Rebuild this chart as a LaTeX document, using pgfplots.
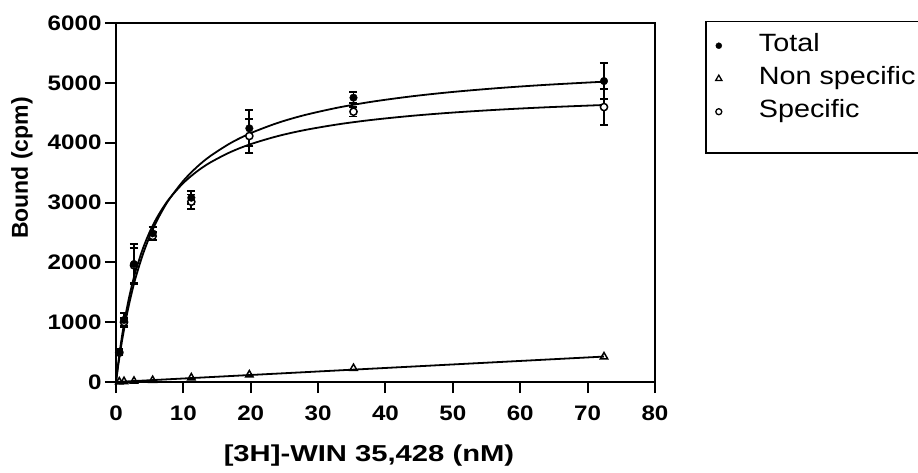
\documentclass[border=0pt]{standalone}
\usepackage{fontspec}
\setmainfont{Liberation Sans}
\newfontfamily\tickf{Liberation Sans Bold}[FakeStretch=1.15]
\newfontfamily\xlabf{Liberation Sans Bold}[FakeStretch=1.27]
\newfontfamily\ylabf{Liberation Sans Bold}
\newfontfamily\legf{Liberation Sans}[FakeStretch=1.15]
\usepackage{pgfplots}
\usepackage{pgfplotstable}
\pgfplotsset{compat=1.18}

\pgfplotstableread{
x y e
0.49 506 40
1.19 1036 120
2.67 1972 330
5.44 2485 110
11.18 3080 110
19.79 4240 300
35.25 4752 90
72.43 5030 300
}\total
\pgfplotstableread{
x y e
0.49 490 40
1.19 1000 65
2.67 1950 290
5.44 2440 70
11.18 3013 120
19.79 4111 290
35.25 4518 80
72.43 4595 300
}\specific
\pgfplotstableread{
x y
0.49 5
1.19 10
2.67 15
5.44 28
11.18 72
19.79 122
35.25 229
72.43 423
}\nonspec

\begin{document}
\begin{tikzpicture}
\useasboundingbox (0,0) rectangle (918pt,472pt);
\begin{axis}[
  at={(116pt,90pt)}, anchor=south west,
  scale only axis, width=539pt, height=359pt,
  xmin=0, xmax=80, ymin=0, ymax=6000,
  xtick={0,10,...,80}, ytick={0,1000,...,6000},
  tick align=outside, xtick pos=bottom, ytick pos=left,
  major tick length=11pt,
  axis line style={line width=2pt},
  major tick style={line width=2pt, black},
  ticklabel style={font=\tickf\fontsize{21}{24}\selectfont},
  xticklabel style={yshift=-9pt},
  /pgf/number format/assume math mode=true,
  /pgf/number format/1000 sep={},
  scaled y ticks=false, scaled x ticks=false,
  xlabel={\xlabf\fontsize{23}{27}\selectfont [3H]-WIN 35,428 (nM)},
  ylabel={\ylabf\fontsize{23}{27}\selectfont Bound (cpm)},
  x label style={at={(axis description cs:0.4694,-0.206)}, anchor=center},
  y label style={at={(axis description cs:-0.1744,0.596)}, anchor=center},
  legend style={at={(axis description cs:1.0946,1.0036)}, anchor=north west,
    draw=none, fill=none, inner xsep=9.5pt, inner ysep=11.8pt,
    column sep=37pt, row sep=9pt, font=\legf\fontsize{25}{30}\selectfont,
    nodes={inner sep=0pt, text height=18pt, text depth=6pt}},
  legend cell align=left,
  clip=false,
]
% legend frame
\draw[black, line width=1.3pt] (axis description cs:1.0946,1.0036) rectangle (axis description cs:1.495,0.6379);
% fitted curves
\addplot[black, line width=1.8pt, smooth, forget plot] coordinates {
(0,0) (0.25,211.2) (0.5,406.6) (0.75,588.0) (1,756.8) (1.5,1061.5) (2,1329.0)
(2.5,1565.8) (3,1776.8) (4,2136.9) (5,2432.6) (6,2679.8) (7,2889.6) (8,3069.9)
(10,3363.6) (12,3592.7) (14,3776.5) (17,3992.8) (20,4159.5) (24,4330.3)
(28,4461.2) (33,4587.2) (38,4684.7) (44,4776.0) (50,4847.9) (57,4914.4)
(64,4967.7) (72.43,5019.2)};
\addplot[black, line width=1.8pt, smooth, forget plot] coordinates {
(0,0) (0.25,242.2) (0.5,461.7) (0.75,661.6) (1,844.4) (1.5,1166.9) (2,1442.3)
(2.5,1680.3) (3,1887.9) (4,2232.8) (5,2507.6) (6,2731.8) (7,2918.1) (8,3075.5)
(10,3326.6) (12,3518.1) (14,3668.9) (17,3843.5) (20,3975.9) (24,4109.5)
(28,4210.7) (33,4307.0) (38,4380.9) (44,4449.6) (50,4503.2) (57,4552.6)
(64,4592.0) (72.43,4629.9)};
\addplot[black, line width=1.8pt, forget plot] coordinates {(0,0) (72.43,425)};
% data
\addplot[black, only marks, mark=*, mark size=3.6pt,
  mark options={fill=white, line width=1.5pt}, forget plot,
  error bars/.cd, y dir=both, y explicit, error mark=-,
  error bar style={line width=1.8pt, black},
  error mark options={rotate=90, line width=1.8pt, mark size=4pt, black}]
  table[x=x, y=y, y error=e] {\specific};
\addplot[black, only marks, mark=*, mark size=3.8pt, forget plot,
  error bars/.cd, y dir=both, y explicit, error mark=-,
  error bar style={line width=1.8pt, black},
  error mark options={rotate=90, line width=1.8pt, mark size=4pt, black}]
  table[x=x, y=y, y error=e] {\total};
\addplot[black, only marks, mark=triangle, mark size=4.2pt,
  mark options={fill=white, line width=1.5pt}, forget plot]
  table[x=x, y=y] {\nonspec};
% legend
\addlegendimage{black, only marks, mark=*, mark size=3pt}
\addlegendentry{Total}
\addlegendimage{black, only marks, mark=triangle, mark size=3.6pt, mark options={line width=1.3pt}}
\addlegendentry{Non specific}
\addlegendimage{black, only marks, mark=*, mark size=3pt, mark options={fill=white, line width=1.3pt}}
\addlegendentry{Specific}
\end{axis}
\end{tikzpicture}
\end{document}
